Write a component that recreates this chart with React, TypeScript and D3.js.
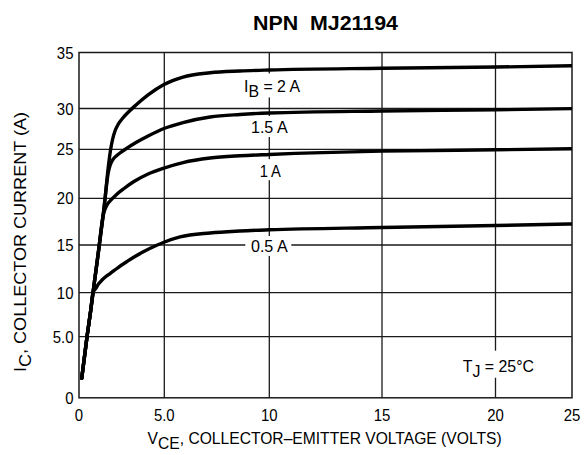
import React from "react";
import * as d3 from "d3";

// ---- data ----
const xTicks = [0, 5, 10, 15, 20, 25];
const xTickLabels = ["0", "5.0", "10", "15", "20", "25"];
const yTicks = [0, 5, 10, 15, 20, 25, 30, 35];
const yTickLabels = ["0", "5.0", "10", "15", "20", "25", "30", "35"];

// Base currents (A) and their I_C (A) vs V_CE (V) curves
const baseCurrents = ["2 A", "1.5 A", "1 A", "0.5 A"];

const curve2A: [number, number][] = [
  [0.16, 1.6], [0.47, 5.0], [0.69, 8.03], [0.82, 10.0], [1.19, 15.0], [1.5, 19.5],
  [1.73, 23.4], [1.85, 24.93], [1.96, 26.14], [2.11, 27.24], [2.29, 28.04], [2.52, 28.71],
  [2.87, 29.51], [3.34, 30.31], [4.05, 31.21], [4.98, 32.14], [5.89, 32.81], [7.18, 33.19],
  [8.6, 33.35], [10, 33.44], [15, 33.59], [20, 33.7], [25, 33.82],
];
const curve15A: [number, number][] = [
  [0.16, 1.6], [0.47, 5.0], [0.69, 8.03], [0.82, 10.0], [1.19, 15.0], [1.5, 19.5],
  [1.6, 21.15], [1.7, 22.48], [1.82, 23.35], [1.99, 23.96], [2.2, 24.34], [2.4, 24.62],
  [2.81, 25.14], [3.34, 25.83], [4.05, 26.63], [4.98, 27.55], [5.89, 28.28], [7.18, 28.96],
  [8.6, 29.27], [10, 29.45], [15, 29.69], [20, 29.84], [25, 29.98],
];
const curve1A: [number, number][] = [
  [0.16, 1.6], [0.47, 5.0], [0.69, 8.03], [0.82, 10.0], [1.19, 15.0], [1.29, 16.61],
  [1.41, 18.1], [1.58, 19.07], [1.82, 19.71], [2.17, 20.34], [2.64, 21.0], [3.22, 21.71],
  [4.05, 22.48], [4.98, 23.09], [5.89, 23.65], [7.18, 24.11], [8.6, 24.34], [10, 24.47],
  [15, 24.81], [20, 24.95], [25, 25.07],
];
const curve05A: [number, number][] = [
  [0.16, 1.6], [0.47, 5.0], [0.69, 8.03], [0.82, 10.0], [1.0, 10.49], [1.14, 10.91],
  [1.35, 11.33], [1.58, 11.7], [1.82, 12.01], [2.29, 12.64], [2.8, 13.25], [3.28, 13.79],
  [3.77, 14.29], [4.56, 14.97], [4.98, 15.29], [5.75, 15.86], [7.18, 16.29], [8.6, 16.5],
  [10, 16.63], [15, 16.87], [20, 17.09], [25, 17.25],
];
const curves = [curve2A, curve15A, curve1A, curve05A];

// ---- layout ----
const W = 586;
const H = 455;
const FONT = "'Liberation Sans', Arial, Helvetica, sans-serif";

// The original chart has a non-uniform (hand-drawn) axis spacing
const x = d3.scaleLinear().domain(xTicks).range([79, 164.3, 269.3, 382, 495.5, 572]);
const y = d3.scaleLinear().domain(yTicks).range([397.8, 336.7, 292.7, 245, 198.3, 149.3, 108.5, 52.5]);

const line = d3
  .line<[number, number]>()
  .x((d) => x(d[0]))
  .y((d) => y(d[1]))
  .curve(d3.curveMonotoneX);

export default function App() {
  const x0 = x(0), x1 = x(25), y0 = y(0), y1 = y(35);
  const gridStroke = "#1a1a1a";
  const lx = x(10); // curve labels sit on the 10 V grid line

  return (
    <svg
      width={W}
      height={H}
      viewBox={`0 0 ${W} ${H}`}
      style={{ position: "absolute", left: 0, top: 0, background: "#fff" }}
      fontFamily={FONT}
    >
      <rect x={0} y={0} width={W} height={H} fill="#fff" />
      <defs>
        <clipPath id="plot">
          <rect x={x0} y={y1} width={x1 - x0} height={y0 - y1} />
        </clipPath>
      </defs>

      {/* grid */}
      {xTicks.slice(1, -1).map((t) => (
        <line key={"vx" + t} x1={x(t)} x2={x(t)} y1={y0} y2={y1} stroke={gridStroke} strokeWidth={1.3} />
      ))}
      {yTicks.slice(1, -1).map((t) => (
        <line key={"hy" + t} x1={x0} x2={x1} y1={y(t)} y2={y(t)} stroke={gridStroke} strokeWidth={1.3} />
      ))}
      <rect x={x0} y={y1} width={x1 - x0} height={y0 - y1} fill="none" stroke={gridStroke} strokeWidth={1.5} />

      {/* label knock-outs */}
      <rect x={lx - 29} y={y(33.4) + 3} width={64} height={24} fill="#fff" />
      <rect x={lx - 22} y={y(29.45) + 3} width={44} height={21} fill="#fff" />
      <rect x={lx - 14} y={y(24.4) + 4} width={28} height={21} fill="#fff" />
      <rect x={lx - 24} y={y(15) - 9} width={46} height={20} fill="#fff" />
      <rect x={x(20) - 38} y={y(5) + 14} width={82} height={27} fill="#fff" />

      {/* curves */}
      <g clipPath="url(#plot)">
        {curves.map((c, i) => (
          <path
            key={i}
            d={line(c) ?? ""}
            fill="none"
            stroke="#000"
            strokeWidth={3.4}
            strokeLinejoin="round"
            strokeLinecap="round"
          />
        ))}
      </g>

      {/* curve labels */}
      <text x={244} y={91.7} fontSize={17} textLength={56} lengthAdjust="spacingAndGlyphs">
        I<tspan dy={5}>B</tspan>
        <tspan dy={-5}>{" = " + baseCurrents[0]}</tspan>
      </text>
      <text x={lx} y={133.3} fontSize={17} textAnchor="middle" textLength={36.7} lengthAdjust="spacingAndGlyphs">
        {baseCurrents[1]}
      </text>
      <text x={lx + 1} y={176.7} fontSize={17} textAnchor="middle" textLength={21.3} lengthAdjust="spacingAndGlyphs">
        {baseCurrents[2]}
      </text>
      <text x={lx} y={251.7} fontSize={17} textAnchor="middle" textLength={36.7} lengthAdjust="spacingAndGlyphs">
        {baseCurrents[3]}
      </text>
      <text x={462.7} y={371.7} fontSize={17} textLength={71.3} lengthAdjust="spacingAndGlyphs">
        T<tspan dy={5}>J</tspan>
        <tspan dy={-5}> = 25°C</tspan>
      </text>

      {/* tick labels */}
      {yTicks.map((t, i) => (
        <text key={"yl" + t} transform={`translate(73.5,${y(t) + 6}) scale(0.88,1)`} fontSize={17} textAnchor="end">
          {yTickLabels[i]}
        </text>
      ))}
      {xTicks.map((t, i) => (
        <text key={"xl" + t} transform={`translate(${x(t)},420.5) scale(0.88,1)`} fontSize={17} textAnchor="middle">
          {xTickLabels[i]}
        </text>
      ))}

      {/* axis titles */}
      <text x={147.6} y={444} fontSize={17} textLength={354} lengthAdjust="spacingAndGlyphs">
        V<tspan dy={5}>CE</tspan>
        <tspan dy={-5}>, COLLECTOR–EMITTER VOLTAGE (VOLTS)</tspan>
      </text>
      <text
        transform="translate(25.7,372) rotate(-90)"
        fontSize={17}
        textLength={260}
        lengthAdjust="spacingAndGlyphs"
      >
        I<tspan dy={5}>C</tspan>
        <tspan dy={-5}>, COLLECTOR CURRENT (A)</tspan>
      </text>

      {/* title */}
      <text x={325.5} y={30} fontSize={21} fontWeight="bold" textAnchor="middle" textLength={145} lengthAdjust="spacingAndGlyphs">
        {"NPN\u00A0\u00A0MJ21194"}
      </text>
    </svg>
  );
}
